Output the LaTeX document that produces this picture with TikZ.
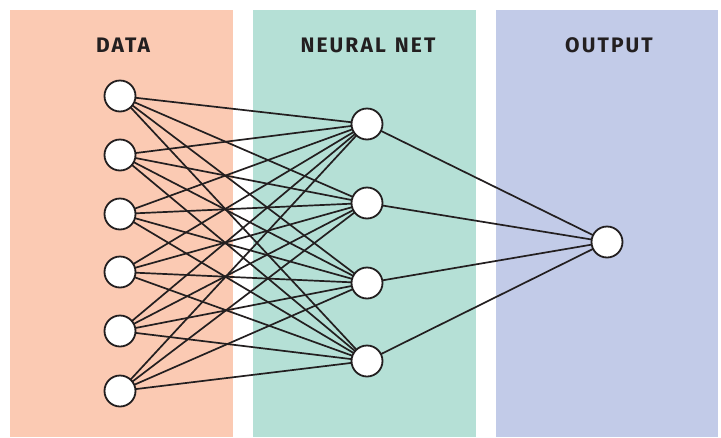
\documentclass[tikz,border=0pt]{standalone}
\usepackage{fontspec}
\setmainfont{Fira Sans}
\newfontfamily\titlefont[LetterSpace=10,WordSpace=1.3]{Fira Sans}
\definecolor{datafill}{HTML}{FBCAB3}
\definecolor{netfill}{HTML}{B5E0D6}
\definecolor{outfill}{HTML}{C2CBE8}
\definecolor{ink}{HTML}{231F20}
\begin{document}
\begin{tikzpicture}[x=1pt,y=-1pt,
  panel/.style={fill=#1, draw=none},
  title/.style={font=\titlefont\fontsize{21}{25}\selectfont\bfseries, text=ink, anchor=center, inner sep=0pt},
  neuron/.style={circle, draw=ink, fill=white, line width=1.8pt, minimum size=31pt, inner sep=0pt},
  link/.style={draw=ink, line width=1.7pt}]
\useasboundingbox (0,0) rectangle (721,437);
% column backgrounds
\path[panel=datafill] (10,10) rectangle (233,437);
\path[panel=netfill] (253,10) rectangle (476,437);
\path[panel=outfill] (496,10) rectangle (718,437);
% column titles
\node[title] (tdata) at (123,45) {DATA};
\node[title] (tnet) at (368,45) {NEURAL NET};
\node[title] (tout) at (609,45) {OUTPUT};
% input layer
\foreach \i/\y in {1/96,2/155,3/214,4/272,5/331,6/391}
  \coordinate (ic\i) at (120,\y);
% hidden layer
\foreach \j/\y in {1/124,2/203,3/283,4/361}
  \coordinate (hc\j) at (367,\y);
\coordinate (oc) at (607,242);
% connections
\foreach \i in {1,...,6}
  \foreach \j in {1,...,4}
    \draw[link] (ic\i) -- (hc\j);
\foreach \j in {1,...,4}
  \draw[link] (hc\j) -- (oc);
% neurons on top of the connections
\foreach \i in {1,...,6}
  \node[neuron] (in\i) at (ic\i) {};
\foreach \j in {1,...,4}
  \node[neuron] (hid\j) at (hc\j) {};
\node[neuron] (out) at (oc) {};
\end{tikzpicture}
\end{document}
